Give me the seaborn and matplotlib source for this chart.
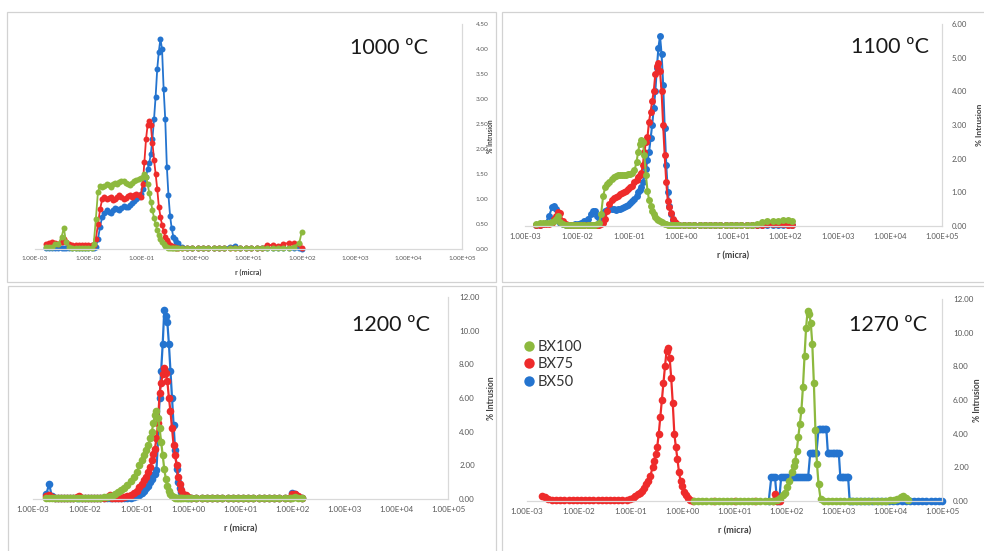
import numpy as np
import pandas as pd
import seaborn as sns
import matplotlib.pyplot as plt
from matplotlib.lines import Line2D
from matplotlib.patches import Rectangle

SAMPLES = ['BX100', 'BX75', 'BX50']
PALETTE = {'BX100': '#8DB93E', 'BX75': '#EE2B2B', 'BX50': '#2474CF'}
X_TICKS = [1e-3, 1e-2, 1e-1, 1e0, 1e1, 1e2, 1e3, 1e4, 1e5]
X_LABELS = ['1.00E-03', '1.00E-02', '1.00E-01', '1.00E+00', '1.00E+01',
            '1.00E+02', '1.00E+03', '1.00E+04', '1.00E+05']

# ---- 1000 ºC : log10 of r (micra), shared by the three samples
logr_1000 = [
    -2.80, -2.74, -2.68, -2.62, -2.56, -2.50, -2.46, -2.42, -2.36, -2.30,
    -2.24, -2.18, -2.12, -2.06, -2.00, -1.94, -1.90, -1.86, -1.82, -1.78,
    -1.74, -1.70, -1.66, -1.62, -1.58, -1.54, -1.50, -1.46, -1.42, -1.38,
    -1.34, -1.30, -1.26, -1.22, -1.18, -1.14, -1.10, -1.06, -1.02, -0.98,
    -0.95, -0.92, -0.89, -0.86, -0.83, -0.80, -0.77, -0.74, -0.71, -0.68,
    -0.65, -0.62, -0.59, -0.56, -0.53, -0.50, -0.47, -0.44, -0.41, -0.38,
    -0.35, -0.32, -0.25, -0.15, -0.05, 0.05, 0.15, 0.25, 0.35, 0.45,
    0.55, 0.65, 0.75, 0.85, 0.95, 1.05, 1.15, 1.25, 1.35, 1.45,
    1.55, 1.65, 1.75, 1.85, 1.95, 2.00,
]
bx100_1000 = [
    0.05, 0.05, 0.05, 0.10, 0.10, 0.25, 0.42, 0.15, 0.05, 0.02,
    0.02, 0.02, 0.02, 0.02, 0.02, 0.02, 0.10, 0.60, 1.15, 1.26,
    1.25, 1.27, 1.30, 1.28, 1.25, 1.30, 1.33, 1.30, 1.35, 1.37,
    1.36, 1.32, 1.30, 1.28, 1.33, 1.36, 1.38, 1.40, 1.42, 1.45,
    1.50, 1.45, 1.30, 1.12, 0.95, 0.78, 0.62, 0.50, 0.38, 0.28,
    0.20, 0.14, 0.10, 0.07, 0.05, 0.03, 0.02, 0.02, 0.02, 0.02,
    0.02, 0.02, 0.02, 0.02, 0.02, 0.02, 0.02, 0.02, 0.02, 0.02,
    0.02, 0.02, 0.02, 0.02, 0.02, 0.02, 0.02, 0.02, 0.02, 0.02,
    0.02, 0.02, 0.03, 0.05, 0.12, 0.35,
]
bx75_1000 = [
    0.10, 0.12, 0.15, 0.12, 0.10, 0.15, 0.20, 0.15, 0.10, 0.08,
    0.08, 0.08, 0.08, 0.08, 0.08, 0.08, 0.08, 0.20, 0.50, 0.80,
    1.00, 1.05, 1.00, 1.02, 1.05, 0.98, 1.00, 1.05, 1.08, 1.05,
    1.00, 1.02, 1.06, 1.08, 1.05, 1.08, 1.10, 1.08, 1.05, 1.30,
    1.75, 2.20, 2.48, 2.57, 2.47, 2.12, 1.79, 1.50, 1.20, 0.85,
    0.65, 0.48, 0.36, 0.25, 0.18, 0.12, 0.09, 0.07, 0.05, 0.04,
    0.03, 0.03, 0.02, 0.02, 0.02, 0.02, 0.02, 0.02, 0.02, 0.02,
    0.02, 0.02, 0.02, 0.02, 0.02, 0.02, 0.02, 0.03, 0.08, 0.08,
    0.06, 0.10, 0.12, 0.12, 0.10, 0.02,
]
bx50_1000 = [
    0.02, 0.02, 0.02, 0.02, 0.02, 0.02, 0.02, 0.02, 0.02, 0.02,
    0.02, 0.02, 0.02, 0.02, 0.02, 0.02, 0.02, 0.05, 0.20, 0.45,
    0.65, 0.72, 0.78, 0.75, 0.72, 0.78, 0.82, 0.80, 0.78, 0.82,
    0.86, 0.85, 0.84, 0.88, 0.92, 0.96, 1.00, 1.05, 1.10, 1.20,
    1.32, 1.45, 1.60, 1.72, 1.90, 2.20, 2.60, 3.05, 3.60, 3.95,
    4.20, 4.00, 3.20, 2.60, 1.65, 1.08, 0.67, 0.42, 0.25, 0.20,
    0.15, 0.12, 0.05, 0.03, 0.02, 0.02, 0.02, 0.02, 0.02, 0.02,
    0.02, 0.05, 0.06, 0.02, 0.02, 0.02, 0.02, 0.02, 0.02, 0.02,
    0.02, 0.02, 0.02, 0.02, 0.02, 0.00,
]

# ---- 1100 ºC
logr_1100 = [
    -2.78, -2.72, -2.66, -2.60, -2.54, -2.48, -2.44, -2.40, -2.36, -2.32,
    -2.28, -2.22, -2.16, -2.10, -2.04, -1.98, -1.92, -1.86, -1.80, -1.74,
    -1.70, -1.66, -1.62, -1.58, -1.54, -1.50, -1.46, -1.42, -1.38, -1.34,
    -1.30, -1.26, -1.22, -1.18, -1.14, -1.10, -1.06, -1.02, -0.98, -0.94,
    -0.90, -0.86, -0.83, -0.80, -0.77, -0.74, -0.71, -0.68, -0.65, -0.62,
    -0.59, -0.56, -0.53, -0.50, -0.47, -0.44, -0.41, -0.38, -0.35, -0.32,
    -0.29, -0.26, -0.23, -0.20, -0.16, -0.12, -0.08, -0.04, 0.05, 0.15,
    0.25, 0.35, 0.45, 0.55, 0.65, 0.75, 0.85, 0.95, 1.05, 1.15,
    1.25, 1.35, 1.45, 1.55, 1.65, 1.75, 1.85, 1.95, 2.05, 2.12,
]
bx100_1100 = [
    0.05, 0.08, 0.10, 0.10, 0.10, 0.12, 0.15, 0.20, 0.30, 0.12,
    0.05, 0.03, 0.02, 0.02, 0.02, 0.02, 0.02, 0.02, 0.02, 0.03,
    0.03, 0.03, 0.05, 0.10, 0.35, 0.90, 1.15, 1.25, 1.32, 1.40,
    1.45, 1.48, 1.50, 1.50, 1.50, 1.52, 1.52, 1.53, 1.55, 1.58,
    1.65, 1.90, 2.20, 2.45, 2.55, 2.50, 2.10, 1.50, 1.05, 0.78,
    0.60, 0.45, 0.36, 0.28, 0.22, 0.17, 0.14, 0.11, 0.09, 0.07,
    0.05, 0.04, 0.03, 0.02, 0.02, 0.02, 0.02, 0.02, 0.02, 0.02,
    0.02, 0.02, 0.02, 0.02, 0.02, 0.02, 0.02, 0.02, 0.02, 0.02,
    0.02, 0.03, 0.05, 0.12, 0.14, 0.15, 0.16, 0.17, 0.18, 0.15,
]
bx75_1100 = [
    0.02, 0.03, 0.05, 0.05, 0.05, 0.10, 0.20, 0.30, 0.43, 0.40,
    0.15, 0.05, 0.03, 0.02, 0.02, 0.02, 0.02, 0.02, 0.02, 0.03,
    0.03, 0.03, 0.03, 0.04, 0.05, 0.10, 0.20, 0.45, 0.65, 0.78,
    0.82, 0.86, 0.90, 0.94, 0.97, 1.00, 1.05, 1.10, 1.15, 1.20,
    1.30, 1.38, 1.45, 1.50, 1.57, 1.80, 2.20, 2.50, 2.65, 3.10,
    3.40, 3.70, 4.00, 4.50, 4.75, 4.84, 4.60, 4.00, 3.00, 2.10,
    1.30, 0.75, 0.55, 0.40, 0.22, 0.12, 0.07, 0.04, 0.02, 0.02,
    0.02, 0.02, 0.02, 0.02, 0.02, 0.02, 0.02, 0.02, 0.02, 0.02,
    0.02, 0.02, 0.02, 0.03, 0.05, 0.06, 0.06, 0.05, 0.03, 0.02,
]
bx50_1100 = [
    0.02, 0.03, 0.05, 0.10, 0.30, 0.55, 0.58, 0.50, 0.30, 0.10,
    0.05, 0.03, 0.03, 0.04, 0.05, 0.06, 0.10, 0.15, 0.22, 0.35,
    0.45, 0.45, 0.30, 0.25, 0.30, 0.40, 0.45, 0.48, 0.50, 0.50,
    0.50, 0.48, 0.50, 0.50, 0.52, 0.55, 0.58, 0.62, 0.68, 0.75,
    0.80, 0.90, 1.00, 1.08, 1.15, 1.30, 1.50, 1.70, 1.96, 2.20,
    2.60, 3.00, 3.50, 4.00, 4.70, 5.30, 5.63, 5.10, 4.20, 2.90,
    1.80, 1.00, 0.60, 0.35, 0.18, 0.08, 0.04, 0.03, 0.02, 0.02,
    0.02, 0.02, 0.02, 0.02, 0.02, 0.02, 0.02, 0.02, 0.02, 0.02,
    0.02, 0.02, 0.02, 0.02, 0.02, 0.02, 0.02, 0.02, 0.02, 0.02,
]

# ---- 1200 ºC
logr_1200 = [
    -2.74, -2.69, -2.64, -2.58, -2.52, -2.46, -2.40, -2.34, -2.28, -2.22,
    -2.16, -2.12, -2.06, -2.00, -1.94, -1.88, -1.82, -1.76, -1.70, -1.64,
    -1.58, -1.52, -1.48, -1.42, -1.36, -1.30, -1.24, -1.18, -1.12, -1.06,
    -1.00, -0.95, -0.90, -0.86, -0.82, -0.78, -0.74, -0.71, -0.68, -0.65,
    -0.62, -0.59, -0.56, -0.53, -0.50, -0.47, -0.44, -0.41, -0.38, -0.35,
    -0.32, -0.29, -0.26, -0.23, -0.20, -0.17, -0.14, -0.10, -0.06, -0.02,
    0.05, 0.15, 0.25, 0.35, 0.45, 0.55, 0.65, 0.75, 0.85, 0.95,
    1.05, 1.15, 1.25, 1.35, 1.45, 1.55, 1.65, 1.75, 1.85, 1.95,
    2.00, 2.05, 2.10, 2.18,
]
bx100_1200 = [
    0.05, 0.05, 0.05, 0.05, 0.05, 0.05, 0.05, 0.05, 0.05, 0.05,
    0.05, 0.05, 0.05, 0.05, 0.05, 0.05, 0.06, 0.07, 0.08, 0.10,
    0.12, 0.15, 0.20, 0.30, 0.42, 0.55, 0.65, 0.85, 1.05, 1.30,
    1.60, 2.00, 2.30, 2.60, 2.90, 3.20, 3.60, 4.00, 4.50, 5.00,
    5.20, 4.80, 4.20, 3.40, 2.60, 1.80, 1.20, 0.80, 0.50, 0.30,
    0.20, 0.12, 0.08, 0.05, 0.05, 0.05, 0.05, 0.05, 0.05, 0.05,
    0.05, 0.05, 0.05, 0.05, 0.05, 0.05, 0.05, 0.05, 0.05, 0.05,
    0.05, 0.05, 0.05, 0.05, 0.05, 0.05, 0.05, 0.05, 0.05, 0.05,
    0.08, 0.10, 0.08, 0.05,
]
bx75_1200 = [
    0.15, 0.25, 0.10, 0.05, 0.05, 0.05, 0.05, 0.05, 0.05, 0.05,
    0.12, 0.20, 0.08, 0.05, 0.05, 0.05, 0.05, 0.05, 0.05, 0.05,
    0.10, 0.22, 0.08, 0.05, 0.05, 0.08, 0.10, 0.15, 0.25, 0.35,
    0.50, 0.70, 0.90, 1.10, 1.30, 1.60, 1.90, 2.30, 2.70, 3.00,
    3.60, 4.50, 6.30, 6.90, 7.40, 7.80, 7.50, 7.00, 6.00, 5.20,
    4.20, 3.20, 2.60, 2.00, 1.30, 0.90, 0.55, 0.30, 0.22, 0.12,
    0.05, 0.05, 0.05, 0.05, 0.05, 0.05, 0.05, 0.05, 0.05, 0.05,
    0.05, 0.05, 0.05, 0.05, 0.05, 0.05, 0.05, 0.05, 0.05, 0.05,
    0.30, 0.30, 0.15, 0.05,
]
bx50_1200 = [
    0.30, 0.90, 0.20, 0.05, 0.05, 0.05, 0.05, 0.05, 0.05, 0.05,
    0.05, 0.05, 0.05, 0.05, 0.05, 0.05, 0.05, 0.05, 0.05, 0.05,
    0.05, 0.05, 0.05, 0.05, 0.05, 0.05, 0.05, 0.05, 0.08, 0.10,
    0.15, 0.25, 0.35, 0.50, 0.65, 0.80, 1.00, 1.20, 1.40, 1.50,
    1.75, 3.50, 6.00, 7.60, 9.20, 11.20, 10.90, 10.50, 9.20, 7.60,
    6.00, 4.40, 2.90, 1.80, 1.00, 0.65, 0.40, 0.20, 0.10, 0.05,
    0.05, 0.05, 0.05, 0.05, 0.05, 0.05, 0.05, 0.05, 0.05, 0.05,
    0.05, 0.05, 0.05, 0.05, 0.05, 0.05, 0.05, 0.05, 0.05, 0.05,
    0.35, 0.30, 0.10, 0.05,
]

# ---- 1270 ºC : each sample has its own r range
logr_bx100_1270 = [
    0.22, 0.30, 0.38, 0.46, 0.54, 0.62, 0.70, 0.78, 0.86, 0.94,
    1.02, 1.10, 1.18, 1.26, 1.34, 1.42, 1.50, 1.58, 1.66, 1.74,
    1.82, 1.88, 1.94, 1.98, 2.02, 2.06, 2.10, 2.14, 2.17, 2.20,
    2.23, 2.26, 2.29, 2.32, 2.35, 2.38, 2.41, 2.44, 2.47, 2.50,
    2.53, 2.56, 2.59, 2.62, 2.66, 2.72, 2.80, 2.88, 2.96, 3.04,
    3.12, 3.20, 3.28, 3.36, 3.44, 3.52, 3.60, 3.68, 3.76, 3.84,
    3.92, 4.00, 4.08, 4.14, 4.20, 4.25, 4.30, 4.35,
]
bx100_1270 = [
    0.02, 0.02, 0.02, 0.02, 0.02, 0.02, 0.02, 0.02, 0.02, 0.02,
    0.02, 0.02, 0.02, 0.02, 0.02, 0.02, 0.02, 0.02, 0.02, 0.02,
    0.05, 0.15, 0.35, 0.50, 0.85, 1.20, 1.70, 2.10, 2.40, 3.00,
    3.80, 4.60, 5.40, 6.80, 8.60, 10.30, 11.30, 11.10, 10.60, 9.30,
    7.00, 4.20, 2.20, 1.00, 0.10, 0.02, 0.02, 0.02, 0.02, 0.02,
    0.02, 0.02, 0.02, 0.02, 0.02, 0.02, 0.02, 0.02, 0.02, 0.02,
    0.02, 0.03, 0.05, 0.10, 0.25, 0.30, 0.15, 0.05,
]
logr_bx75_1270 = [
    -2.71, -2.66, -2.60, -2.52, -2.44, -2.36, -2.28, -2.20, -2.12, -2.04,
    -1.96, -1.88, -1.80, -1.72, -1.64, -1.56, -1.48, -1.40, -1.32, -1.24,
    -1.16, -1.08, -1.02, -0.96, -0.91, -0.86, -0.82, -0.78, -0.74, -0.70,
    -0.66, -0.62, -0.58, -0.55, -0.52, -0.49, -0.46, -0.43, -0.40, -0.37,
    -0.34, -0.31, -0.28, -0.25, -0.22, -0.19, -0.16, -0.13, -0.10, -0.07,
    -0.04, -0.01, 0.03, 0.07, 0.11, 0.15, 0.20,
    0.60, 1.00, 1.40, 1.74, 1.78, 1.82, 1.88,
]
bx75_1270 = [
    0.30, 0.25, 0.12, 0.08, 0.05, 0.05, 0.05, 0.05, 0.05, 0.05,
    0.05, 0.05, 0.05, 0.05, 0.05, 0.05, 0.05, 0.05, 0.05, 0.05,
    0.05, 0.08, 0.12, 0.20, 0.30, 0.40, 0.50, 0.62, 0.80, 1.00,
    1.20, 1.50, 2.00, 2.40, 2.80, 3.20, 4.00, 5.00, 6.00, 7.00,
    8.00, 8.90, 9.10, 8.50, 7.30, 5.80, 4.00, 3.20, 2.50, 1.70,
    1.20, 0.90, 0.55, 0.35, 0.18, 0.08, 0.02,
    0.02, 0.02, 0.02, 0.02, 0.40, 0.02, 0.02,
]
logr_bx50_1270 = [
    1.66, 1.71, 1.74, 1.78, 1.82, 1.86, 1.90, 1.94, 1.98, 2.02,
    2.06, 2.10, 2.14, 2.18, 2.22, 2.26, 2.30, 2.34, 2.38, 2.42,
    2.46, 2.49, 2.52, 2.55, 2.58, 2.62, 2.65, 2.68, 2.71, 2.74,
    2.77, 2.80, 2.83, 2.86, 2.89, 2.92, 2.95, 2.98, 3.01, 3.04,
    3.07, 3.10, 3.13, 3.16, 3.19, 3.22, 3.26, 3.34, 3.42, 3.50,
    3.58, 3.66, 3.74, 3.82, 3.90, 3.98, 4.06, 4.14, 4.22, 4.30,
    4.38, 4.46, 4.54, 4.62, 4.70, 4.78, 4.86, 4.94, 5.00,
]
bx50_1270 = [
    0.00, 1.43, 1.43, 1.43, 0.00, 0.00, 1.43, 1.43, 1.43, 1.43,
    1.43, 1.43, 1.43, 1.43, 1.43, 1.43, 1.43, 1.43, 1.43, 1.43,
    2.86, 2.86, 2.86, 2.86, 2.86, 4.29, 4.29, 4.29, 4.29, 4.29,
    4.29, 2.86, 2.86, 2.86, 2.86, 2.86, 2.86, 2.86, 2.86, 1.43,
    1.43, 1.43, 1.43, 1.43, 1.43, 0.00, 0.00, 0.00, 0.00, 0.00,
    0.00, 0.00, 0.00, 0.00, 0.00, 0.00, 0.00, 0.00, 0.00, 0.00,
    0.00, 0.00, 0.00, 0.00, 0.00, 0.00, 0.00, 0.00, 0.00,
]


def makeFrame(series):
    frames = []
    for name, (logr, vals) in series.items():
        frames.append(pd.DataFrame({
            'r': 10.0 ** np.asarray(logr),
            'intrusion': vals,
            'sample': name,
        }))
    return pd.concat(frames, ignore_index=True)


panels = [
    # layout in px: left, right, top, zero line
    dict(title='1000 ºC', ymax=4.5, ystep=0.5, px=(35, 462, 24, 249),
         tpos=(0.83, 0.895), tick=4.6, lab=5.2, ms=4.3, lw=1.3, ypad=10, ylab=1.066, xlab=-0.102,
         data=makeFrame({'BX100': (logr_1000, bx100_1000),
                         'BX75': (logr_1000, bx75_1000),
                         'BX50': (logr_1000, bx50_1000)})),
    dict(title='1100 ºC', ymax=6, ystep=1, px=(525, 942, 24, 226),
         tpos=(0.875, 0.884), tick=5.6, lab=6.4, ms=5.0, lw=1.5, ypad=7, ylab=1.091, xlab=-0.149,
         data=makeFrame({'BX100': (logr_1100, bx100_1100),
                         'BX75': (logr_1100, bx75_1100),
                         'BX50': (logr_1100, bx50_1100)})),
    dict(title='1200 ºC', ymax=12, ystep=2, px=(33, 448, 297, 499),
         tpos=(0.863, 0.861), tick=5.8, lab=6.6, ms=5.5, lw=1.6, ypad=8, ylab=1.106, xlab=-0.149,
         data=makeFrame({'BX100': (logr_1200, bx100_1200),
                         'BX75': (logr_1200, bx75_1200),
                         'BX50': (logr_1200, bx50_1200)})),
    dict(title='1270 ºC', ymax=12, ystep=2, px=(527, 942, 299, 501),
         tpos=(0.871, 0.871), tick=5.8, lab=6.6, ms=5.5, lw=1.6, ypad=8, ylab=1.086, xlab=-0.149,
         data=makeFrame({'BX100': (logr_bx100_1270, bx100_1270),
                         'BX75': (logr_bx75_1270, bx75_1270),
                         'BX50': (logr_bx50_1270, bx50_1270)})),
]

sns.set_theme(style='white')
plt.rcParams['font.family'] = ['Lato', 'DejaVu Sans']

W, H = 984, 551
fig = plt.figure(figsize=(W / 100, H / 100), dpi=100)
fig.patch.set_facecolor('white')

# light frames round each chart
for (x0, y0, x1, y1) in [(7, 12, 496, 282), (502, 12, 990, 282),
                         (8, 286, 496, 556), (502, 286, 990, 556)]:
    fig.add_artist(Rectangle((x0 / W, 1 - y1 / H), (x1 - x0) / W, (y1 - y0) / H,
                             transform=fig.transFigure, fill=False,
                             edgecolor='#d2d2d2', linewidth=0.9))

grey = '#595959'
for i, p in enumerate(panels):
    left, right, top, zero = p['px']
    ax = fig.add_axes([left / W, 1 - zero / H, (right - left) / W, (zero - top) / H])
    ax.set_facecolor('none')
    sns.lineplot(data=p['data'], x='r', y='intrusion', hue='sample',
                 hue_order=['BX50', 'BX75', 'BX100'], palette=PALETTE,
                 estimator=None, sort=False, marker='o', markersize=p['ms'],
                 markeredgewidth=0, linewidth=p['lw'], legend=False, clip_on=False, ax=ax)
    ax.set_xscale('log')
    ax.set_xlim(1e-3, 1e5)
    ax.set_ylim(0, p['ymax'])
    ax.set_xticks(X_TICKS)
    ax.set_xticklabels(X_LABELS)
    ax.minorticks_off()
    yt = np.arange(0, p['ymax'] + 1e-9, p['ystep'])
    ax.set_yticks(yt)
    ax.set_yticklabels(['%.2f' % v for v in yt])
    ax.yaxis.tick_right()
    ax.tick_params(axis='x', length=0, pad=5, labelsize=p['tick'], labelcolor=grey)
    ax.tick_params(axis='y', length=0, pad=p['ypad'], labelsize=p['tick'], labelcolor=grey)
    for side in ['top', 'left']:
        ax.spines[side].set_visible(False)
    for side in ['bottom', 'right']:
        ax.spines[side].set_color('#d9d9d9')
        ax.spines[side].set_linewidth(0.9)
    ax.set_xlabel('')
    ax.set_ylabel('')
    ax.text(0.5, p['xlab'], 'r (micra)', transform=ax.transAxes, ha='center',
            va='center', fontsize=p['lab'], fontweight='bold', color='#404040')
    ax.text(p['ylab'], 0.5, '% Intrusion', transform=ax.transAxes, ha='center',
            va='center', rotation=90, fontsize=p['lab'] - 0.4, fontweight='bold',
            color='#404040', clip_on=False)
    ax.text(p['tpos'][0], p['tpos'][1], p['title'], transform=ax.transAxes,
            ha='center', va='center', fontsize=15.5, color='#1a1a1a')
    if i == 3:
        handles = [Line2D([], [], linestyle='', marker='o', markersize=7.5,
                          markerfacecolor=PALETTE[s], markeredgewidth=0) for s in SAMPLES]
        ax.legend(handles, SAMPLES, loc='center left', bbox_to_anchor=(-0.01, 0.676),
                  frameon=False, fontsize=10.5, handlelength=0.9, handletextpad=0.1,
                  labelspacing=0.25, borderpad=0, borderaxespad=0,
                  labelcolor='#333333')

fig.savefig('out.png', dpi=100, facecolor='white')
